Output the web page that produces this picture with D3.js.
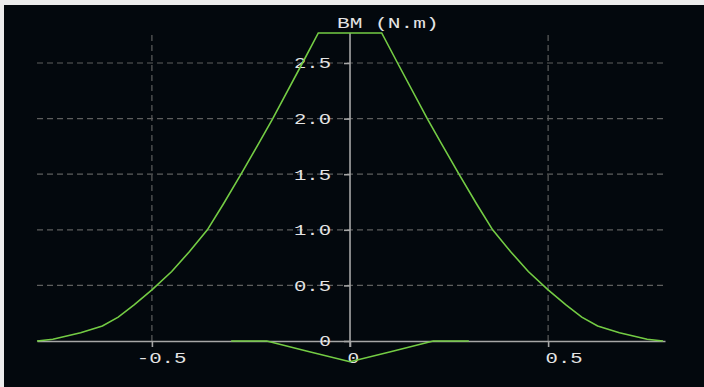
<!DOCTYPE html>
<html>
<head>
<meta charset="utf-8">
<script src="https://cdn.jsdelivr.net/npm/d3@7"></script>
<style>
  html, body { margin: 0; padding: 0; background: #ececec; }
  svg { display: block; }
</style>
</head>
<body>
<script>
// bending moment envelope, position in m, BM in N.m
const positions = [-0.79, -0.75, -0.68, -0.625, -0.585, -0.545, -0.5, -0.45, -0.405, -0.36, -0.32, -0.275, -0.23, -0.195, -0.12, -0.08,
                   0.08, 0.12, 0.195, 0.23, 0.275, 0.32, 0.36, 0.405, 0.45, 0.5, 0.545, 0.585, 0.625, 0.68, 0.75, 0.79];
const maxMoment = [0, 0.015, 0.075, 0.135, 0.215, 0.325, 0.46, 0.625, 0.805, 1.0, 1.23, 1.5, 1.78, 2.0, 2.5, 2.77,
                   2.77, 2.5, 2.0, 1.78, 1.5, 1.23, 1.0, 0.805, 0.625, 0.46, 0.325, 0.215, 0.135, 0.075, 0.015, 0];

const negPositions = [-0.30, -0.21, -0.105, 0, 0.105, 0.21, 0.30];
const minMoment = [0, 0, -0.095, -0.186, -0.095, 0, 0];

const xTicks = [-0.5, 0, 0.5];
const yTicks = [0, 0.5, 1.0, 1.5, 2.0, 2.5];
const title = "BM (N.m)";

const width = 704, height = 387;
const charW = 12.7;

const svg = d3.select("body").append("svg")
    .attr("width", width)
    .attr("height", height);

// dark plot panel, light frame shows on top and left
svg.append("rect")
    .attr("x", 4).attr("y", 5)
    .attr("width", width - 4).attr("height", height - 5)
    .attr("fill", "#03080d");

const x = d3.scaleLinear().domain([-0.79, 0.795]).range([37, 665]);
const y = d3.scaleLinear().domain([0, 2.5]).range([341, 63]);

const font = "'Liberation Mono', 'DejaVu Sans Mono', monospace";
const textColor = "#e4e4e4";
const axisColor = "#a6a6a6";
const gridColor = "#5e5e5e";
const green = "#74cc44";

// grid
svg.append("g")
    .selectAll("line")
    .data(yTicks.filter(d => d !== 0))
    .join("line")
    .attr("x1", x.range()[0]).attr("x2", x.range()[1])
    .attr("y1", d => y(d)).attr("y2", d => y(d))
    .attr("stroke", gridColor)
    .attr("stroke-width", 1.2)
    .attr("stroke-dasharray", "6,4");

svg.append("g")
    .selectAll("line")
    .data(xTicks.filter(d => d !== 0))
    .join("line")
    .attr("x1", d => x(d)).attr("x2", d => x(d))
    .attr("y1", 35).attr("y2", y(0))
    .attr("stroke", gridColor)
    .attr("stroke-width", 1.2)
    .attr("stroke-dasharray", "6,4");

// x axis
const xAxis = svg.append("g")
    .attr("transform", `translate(0,${y(0)})`)
    .call(d3.axisBottom(x).tickValues(xTicks).tickSize(6).tickSizeOuter(0));
xAxis.select(".domain").attr("stroke", axisColor).attr("stroke-width", 1.6);
xAxis.selectAll(".tick line").attr("stroke", axisColor).attr("stroke-width", 1.6);
xAxis.selectAll(".tick text")
    .attr("fill", textColor)
    .attr("font-family", font)
    .attr("font-size", 15)
    .attr("text-anchor", "start")
    .attr("dy", null)
    .attr("y", 22)
    .text(d => d === 0 ? "0" : d3.format(".1f")(d).replace("−", "-"))
    .attr("x", d => (d < 0 ? -3 - charW : -3))
    .each(function () {
        const n = this.textContent.length;
        d3.select(this).attr("textLength", n * charW - 1).attr("lengthAdjust", "spacingAndGlyphs");
    });

// y axis
const yAxis = svg.append("g")
    .attr("transform", `translate(${x(0)},0)`)
    .call(d3.axisLeft(y).tickValues(yTicks).tickSize(6).tickPadding(13).tickSizeOuter(0));
yAxis.select(".domain")
    .attr("d", `M0,33V${y(0) + 6}`)
    .attr("stroke", axisColor).attr("stroke-width", 1.6);
yAxis.selectAll(".tick line").attr("stroke", axisColor).attr("stroke-width", 1.6);
yAxis.selectAll(".tick text")
    .attr("fill", textColor)
    .attr("font-family", font)
    .attr("font-size", 15)
    .attr("dy", "0.33em")
    .text(d => d === 0 ? "0" : d3.format(".1f")(d))
    .each(function () {
        const n = this.textContent.length;
        d3.select(this).attr("textLength", n * charW - 1).attr("lengthAdjust", "spacingAndGlyphs");
    });

// title
svg.append("text")
    .attr("x", 337).attr("y", 28)
    .attr("fill", textColor)
    .attr("font-family", font)
    .attr("font-size", 15)
    .attr("textLength", title.length * charW)
    .attr("lengthAdjust", "spacingAndGlyphs")
    .text(title);

// curves
const line = d3.line().x(d => x(d[0])).y(d => y(d[1]));

svg.append("path")
    .datum(d3.zip(negPositions, minMoment))
    .attr("d", line)
    .attr("fill", "none")
    .attr("stroke", green)
    .attr("stroke-width", 1.6);

svg.append("path")
    .datum(d3.zip(positions, maxMoment))
    .attr("d", line)
    .attr("fill", "none")
    .attr("stroke", green)
    .attr("stroke-width", 1.6);
</script>
</body>
</html>
